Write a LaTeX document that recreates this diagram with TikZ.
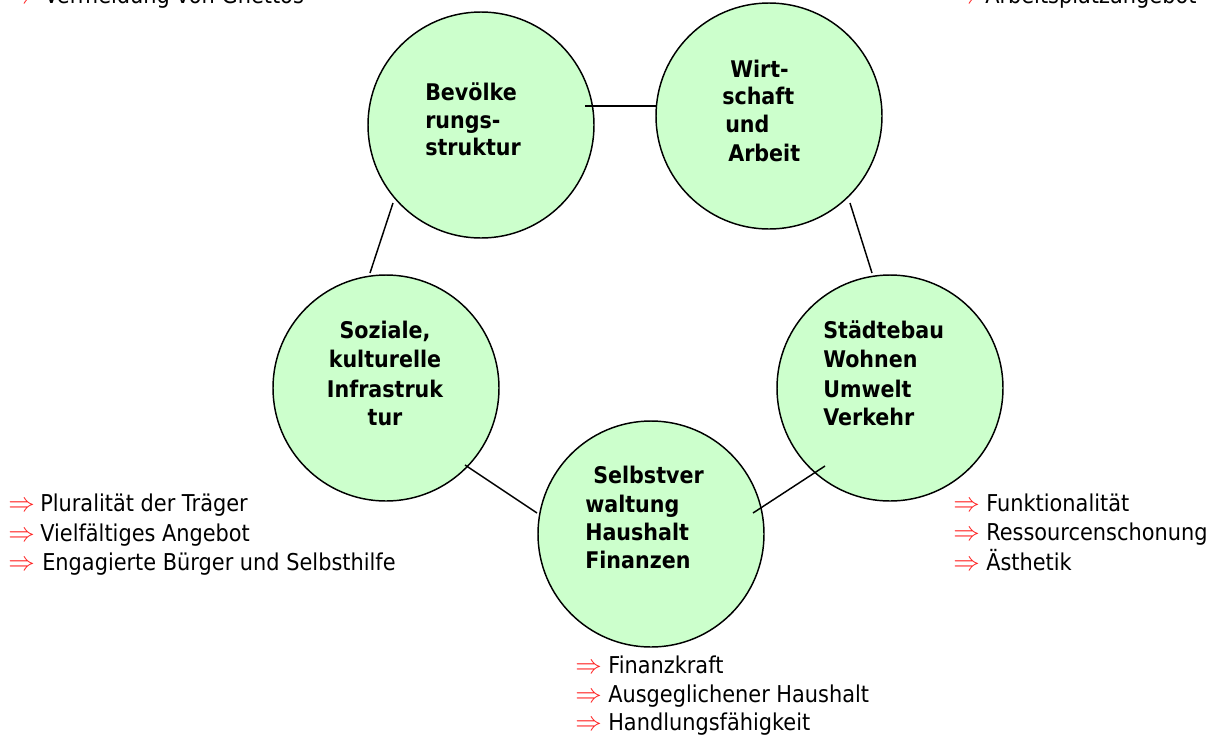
\documentclass[tikz,border=0pt]{standalone}
\usepackage{fontspec}
\setmainfont{DejaVu Sans}[FakeStretch=0.9]
\definecolor{cfill}{HTML}{CCFFCC}
\definecolor{arr}{HTML}{FF2020}
\newcommand{\rarr}{\scalebox{1.15}{$\Rightarrow$}}
\begin{document}
\begin{tikzpicture}[x=0.75pt,y=-0.75pt,
  bub/.style={circle,draw=black,line width=1.1pt,fill=cfill,minimum size=169.5pt,inner sep=0pt},
  ct/.style={font=\bfseries\fontsize{17.2}{20}\selectfont,inner sep=0pt,anchor=base west},
  ctc/.style={font=\bfseries\fontsize{17.2}{20}\selectfont,inner sep=0pt,anchor=base},
  lt/.style={font=\fontsize{17.4}{20}\selectfont,inner sep=0pt,anchor=base west},
  ar/.style={font=\fontsize{18}{20}\selectfont,text=arr,inner sep=0pt,anchor=base west},
  conn/.style={line width=1.1pt}]
\useasboundingbox (0,0) rectangle (1217,736);
% circles
\node[bub] (bev) at (481,125) {};
\node[bub] (wirt) at (769,116) {};
\node[bub] (soz) at (386,388) {};
\node[bub] (stb) at (890,388) {};
\node[bub] (sv) at (651,534) {};
% connectors
\draw[conn] ([shift={(104,-19)}]bev.center) -- ([shift={(-112,-10)}]wirt.center);
\draw[conn] ([shift={(-88,78)}]bev.center) -- ([shift={(-16,-115)}]soz.center);
\draw[conn] ([shift={(81,87)}]wirt.center) -- ([shift={(-18,-115)}]stb.center);
\draw[conn] ([shift={(79,77)}]soz.center) -- ([shift={(-114,-21)}]sv.center);
\draw[conn] ([shift={(-65,78)}]stb.center) -- ([shift={(102,-21)}]sv.center);
% circle texts
\node[ct] (b1) at (425,100) {Bevölke};
\node[ct] (b2) at (425,128) {rungs-};
\node[ct] (b3) at (425,155) {struktur};
\node[ct] (w1) at (730,77) {Wirt-};
\node[ct] (w2) at (722,104) {schaft};
\node[ct] (w3) at (725,132) {und};
\node[ct] (w4) at (728,161) {Arbeit};
\node[ctc] (s1) at (385,338) {Soziale,};
\node[ctc] (s2) at (385,367) {kulturelle};
\node[ctc] (s3) at (385,397) {Infrastruk};
\node[ctc] (s4) at (385,425) {tur};
\node[ct] (t1) at (823,338) {Städtebau};
\node[ct] (t2) at (823,367) {Wohnen};
\node[ct] (t3) at (823,397) {Umwelt};
\node[ct] (t4) at (823,425) {Verkehr};
\node[ct] (v1) at (593,483) {Selbstver};
\node[ct] (v2) at (585,512) {waltung};
\node[ct] (v3) at (585,540) {Haushalt};
\node[ct] (v4) at (585,568) {Finanzen};
% lists
\node[ar] (a0) at (8,3) {\rarr};
\node[lt] (l0) at (44,3) {Vermeidung von Ghettos};
\node[ar] (a00) at (953,3) {\rarr};
\node[lt] (r0) at (985,3) {Arbeitsplatzangebot};
\node[ar] (a1) at (8,511) {\rarr};
\node[lt] (l1) at (40,511) {Pluralität der Träger};
\node[ar] (a2) at (8,541) {\rarr};
\node[lt] (l2) at (40,541) {Vielfältiges Angebot};
\node[ar] (a3) at (8,570) {\rarr};
\node[lt] (l3) at (42,570) {Engagierte Bürger und Selbsthilfe};
\node[ar] (a4) at (953,511) {\rarr};
\node[lt] (r1) at (986,511) {Funktionalität};
\node[ar] (a5) at (953,540) {\rarr};
\node[lt] (r2) at (986,540) {Ressourcenschonung};
\node[ar] (a6) at (953,570) {\rarr};
\node[lt] (r3) at (986,570) {Ästhetik};
\node[ar] (a7) at (575,673) {\rarr};
\node[lt] (m1) at (608,673) {Finanzkraft};
\node[ar] (a8) at (575,702) {\rarr};
\node[lt] (m2) at (608,702) {Ausgeglichener Haushalt};
\node[ar] (a9) at (575,730) {\rarr};
\node[lt] (m3) at (608,730) {Handlungsfähigkeit};
\end{tikzpicture}
\end{document}
